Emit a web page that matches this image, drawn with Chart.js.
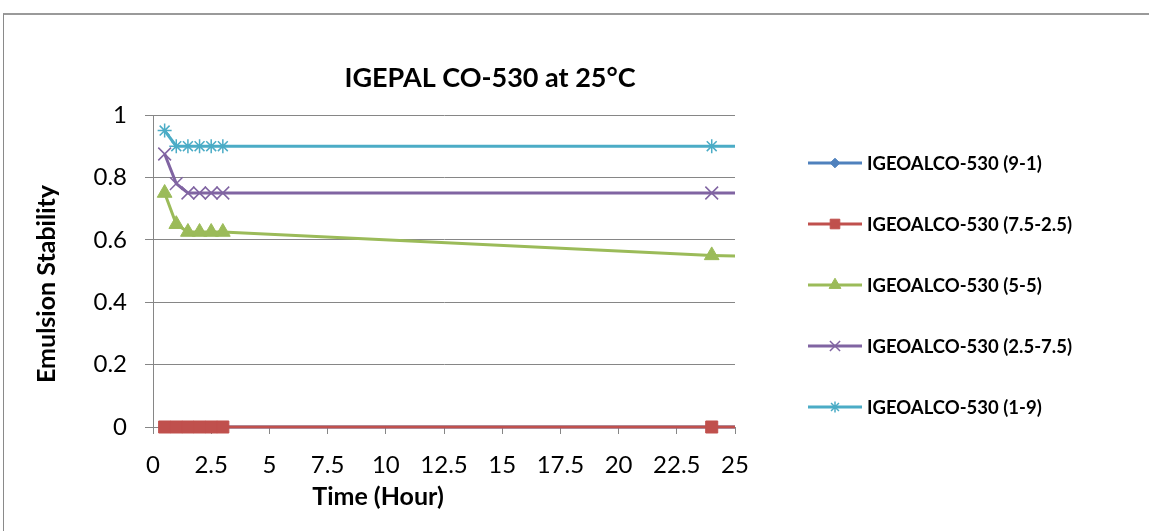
<!DOCTYPE html>
<html>
<head>
<meta charset="utf-8">
<script src="https://cdn.jsdelivr.net/npm/chart.js@4/dist/chart.umd.min.js"></script>
<style>
    html, body { margin: 0; padding: 0; background: #fff; overflow: hidden; }
    #frame { position: absolute; left: 3px; top: 13px; width: 1300px; height: 700px; border: 1px solid #8a8a8a; border-top: 2px solid #9a9a9a; }
    #chart { position: absolute; left: 0; top: 0; }
</style>
</head>
<body>
<div id="frame"></div>
<canvas id="chart" width="1149" height="531"></canvas>
<script>
// time in hours (last point lies past the 25 h axis end and is clipped)
const hours = [0.5, 1, 1.5, 2, 2.5, 3, 24, 48];

const seriesNames = [
    'IGEOALCO-530 (9-1)',
    'IGEOALCO-530 (7.5-2.5)',
    'IGEOALCO-530 (5-5)',
    'IGEOALCO-530 (2.5-7.5)',
    'IGEOALCO-530 (1-9)'
];
const ratio91   = [0, 0, 0, 0, 0, 0, 0, 0];
const ratio7525 = [0, 0, 0, 0, 0, 0, 0, 0];
const ratio55   = [0.75, 0.65, 0.625, 0.625, 0.625, 0.625, 0.55, 0.5];
const ratio2575 = [0.875, 0.78, 0.75, 0.75, 0.75, 0.75, 0.75, 0.75];
const ratio19   = [0.95, 0.9, 0.9, 0.9, 0.9, 0.9, 0.9, 0.9];

const xTicks = [0, 2.5, 5, 7.5, 10, 12.5, 15, 17.5, 20, 22.5, 25];
const yTicks = [0, 0.2, 0.4, 0.6, 0.8, 1];

const chartTitle = 'IGEPAL CO-530 at 25\u00B0C';
const xTitle = 'Time (Hour)';
const yTitle = 'Emulsion Stability';

const COLORS = ['#4F81BD', '#C0504D', '#9BBB59', '#8064A2', '#4BACC6'];
const STYLES = [
    { pointStyle: 'rectRot', radius: 6, borderWidth: 1 },
    { pointStyle: 'rect', radius: 8.5, borderWidth: 1 },
    { pointStyle: 'triangle', radius: 8.5, borderWidth: 1 },
    { pointStyle: 'crossRot', radius: 9, borderWidth: 1.5 },
    { pointStyle: 'star', radius: 7, borderWidth: 1.5 }
];
const FONT = 'Lato, "Open Sans", sans-serif';
const GRID = '#868686';

const allSeries = [ratio91, ratio7525, ratio55, ratio2575, ratio19];

const datasets = allSeries.map((vals, i) => ({
    label: seriesNames[i],
    data: hours.map((h, j) => ({ x: h, y: vals[j] })),
    borderColor: COLORS[i],
    backgroundColor: COLORS[i],
    borderWidth: 3,
    pointStyle: STYLES[i].pointStyle,
    pointRadius: STYLES[i].radius,
    pointBorderWidth: STYLES[i].borderWidth,
    pointBackgroundColor: COLORS[i],
    pointBorderColor: COLORS[i],
    tension: 0,
    clip: { left: 12, top: 12, right: 0, bottom: 12 },
    order: -i
}));

// title, axis titles and legend placed like the original sheet
const textPlugin = {
    id: 'sheetText',
    afterDraw(chart) {
        const ctx = chart.ctx;
        ctx.save();
        ctx.fillStyle = '#000';
        ctx.textAlign = 'center';
        ctx.textBaseline = 'middle';

        ctx.font = 'bold 27px ' + FONT;
        ctx.fillText(chartTitle, 490, 78);

        ctx.font = 'bold 25px ' + FONT;
        ctx.fillText(xTitle, 378, 497);

        ctx.save();
        ctx.translate(47, 284);
        ctx.rotate(-Math.PI / 2);
        ctx.fillText(yTitle, 0, 0);
        ctx.restore();

        // legend
        ctx.font = 'bold 18.5px ' + FONT;
        ctx.textAlign = 'left';
        seriesNames.forEach((name, i) => {
            const y = 163 + i * 61;
            ctx.strokeStyle = COLORS[i];
            ctx.fillStyle = COLORS[i];
            ctx.lineWidth = 3;
            ctx.beginPath();
            ctx.moveTo(808, y);
            ctx.lineTo(862, y);
            ctx.stroke();
            if (Chart.helpers && Chart.helpers.drawPoint) {
                ctx.lineWidth = STYLES[i].borderWidth;
                Chart.helpers.drawPoint(ctx, {
                    pointStyle: STYLES[i].pointStyle,
                    radius: STYLES[i].radius * 0.8,
                    rotation: 0,
                    borderWidth: STYLES[i].borderWidth
                }, 835, y);
            }
            ctx.fillStyle = '#000';
            ctx.fillText(name, 867, y + 1);
        });
        ctx.restore();
    }
};

new Chart(document.getElementById('chart'), {
    type: 'line',
    data: { datasets },
    options: {
        responsive: false,
        animation: false,
        devicePixelRatio: 1,
        events: [],
        layout: { padding: { left: 93, right: 414, top: 115, bottom: 44 } },
        plugins: {
            legend: { display: false },
            title: { display: false },
            tooltip: { enabled: false }
        },
        scales: {
            x: {
                type: 'linear',
                min: 0,
                max: 25,
                afterFit: (scale) => { scale.height = 60; },
                afterBuildTicks: (scale) => { scale.ticks = xTicks.map(v => ({ value: v })); },
                grid: { drawOnChartArea: false, drawTicks: true, tickLength: 7, color: GRID },
                border: { display: true, color: GRID, width: 1 },
                ticks: {
                    color: '#000',
                    padding: 17,
                    maxRotation: 0,
                    autoSkip: false,
                    callback: (v) => String(v),
                    font: { family: FONT, size: 24 }
                }
            },
            y: {
                min: 0,
                max: 1,
                afterFit: (scale) => { scale.width = 60; },
                afterBuildTicks: (scale) => { scale.ticks = yTicks.map(v => ({ value: v })); },
                grid: { color: GRID, lineWidth: 1, drawTicks: true, tickLength: 8 },
                border: { display: true, color: GRID, width: 1 },
                ticks: {
                    color: '#000',
                    padding: 18,
                    callback: (v) => String(v),
                    font: { family: FONT, size: 24 }
                }
            }
        }
    },
    plugins: [textPlugin]
});
</script>
</body>
</html>
